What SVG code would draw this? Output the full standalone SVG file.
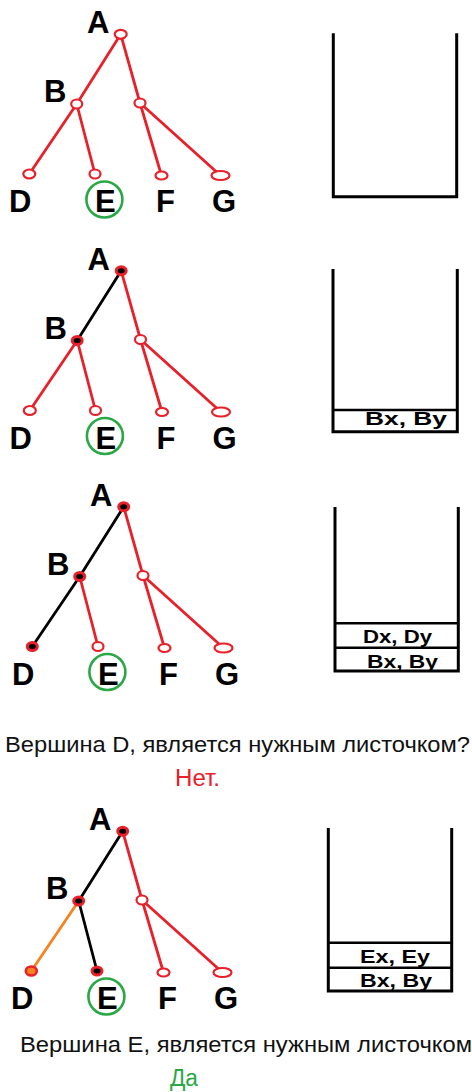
<svg xmlns="http://www.w3.org/2000/svg" width="472" height="1092" viewBox="0 0 472 1092">
  <defs>
    <style>
      .edge { stroke: #e8202a; stroke-width: 2.8; fill: none; stroke-linecap: round; }
      .edge.done { stroke: #000; }
      .edge.back { stroke: #f7821e; }
      .node { fill: #fff; stroke: #e8202a; stroke-width: 2.2; }
      .node.done { fill: #000; stroke-width: 3; }
      .node.back { fill: #f7821e; stroke-width: 2.6; }
      .lbl { font-family: "Liberation Sans", Arial, sans-serif; font-weight: bold; font-size: 31px; fill: #000; }
      .goal { fill: none; stroke: #2aa845; stroke-width: 2.6; }
      .stack { fill: none; stroke: #000; stroke-width: 3; }
      .cell { stroke: #000; stroke-width: 2.5; }
      .item { font-family: "Liberation Sans", Arial, sans-serif; font-weight: bold; font-size: 18.5px; fill: #000; }
      .q { font-family: "Liberation Sans", Arial, sans-serif; font-size: 22px; fill: #111; }
      .no { font-family: "Liberation Sans", Arial, sans-serif; font-size: 23px; fill: #e8202a; }
      .yes { font-family: "Liberation Sans", Arial, sans-serif; font-size: 23px; fill: #2aa845; }
    </style>
  </defs>

  <!-- Step 1: nothing visited yet -->
  <g id="step1">
    <g id="s1-edges">
      <line class="edge" x1="120.7" y1="34.3" x2="76.7" y2="104"/>
      <line class="edge" x1="120.7" y1="34.3" x2="140" y2="103"/>
      <line class="edge" x1="76.7" y1="104" x2="29.3" y2="174"/>
      <line class="edge" x1="76.7" y1="104" x2="95" y2="174"/>
      <line class="edge" x1="140" y1="103" x2="161.5" y2="175.5"/>
      <line class="edge" x1="140" y1="103" x2="220.5" y2="175.5"/>
    </g>
    <g id="s1-A"><ellipse class="node" cx="120.7" cy="34.3" rx="6" ry="4.5"/><text class="lbl" x="87" y="33">A</text></g>
    <g id="s1-B"><ellipse class="node" cx="76.7" cy="104" rx="5.5" ry="4.5"/><text class="lbl" x="44" y="102">B</text></g>
    <g id="s1-C"><ellipse class="node" cx="140" cy="103" rx="5.5" ry="4.5"/></g>
    <g id="s1-D"><ellipse class="node" cx="29.3" cy="174" rx="6" ry="4.5"/><text class="lbl" x="9" y="212">D</text></g>
    <g id="s1-E"><ellipse class="node" cx="95" cy="174" rx="5.5" ry="4.5"/><text class="lbl" x="95" y="212">E</text><circle class="goal" cx="104.4" cy="199.5" r="18"/></g>
    <g id="s1-F"><ellipse class="node" cx="161.5" cy="175.5" rx="6" ry="4"/><text class="lbl" x="156" y="212">F</text></g>
    <g id="s1-G"><ellipse class="node" cx="220.5" cy="175.5" rx="9" ry="4.5"/><text class="lbl" x="212" y="212">G</text></g>
    <g id="s1-stack"><polyline class="stack" points="333.3,33.3 333.3,196.7 456.7,196.7 456.7,33.3"/></g>
  </g>

  <!-- Step 2: A -> B pushed -->
  <g id="step2">
    <g transform="translate(0.5 236.5)">
      <g id="s2-edges">
        <line class="edge done" x1="120.7" y1="34.3" x2="76.7" y2="104"/>
        <line class="edge" x1="120.7" y1="34.3" x2="140" y2="103"/>
        <line class="edge" x1="76.7" y1="104" x2="29.3" y2="174"/>
        <line class="edge" x1="76.7" y1="104" x2="95" y2="174"/>
        <line class="edge" x1="140" y1="103" x2="161.5" y2="175.5"/>
        <line class="edge" x1="140" y1="103" x2="220.5" y2="175.5"/>
      </g>
      <g id="s2-A"><ellipse class="node done" cx="120.7" cy="34.3" rx="5" ry="4"/><text class="lbl" x="87" y="33">A</text></g>
      <g id="s2-B"><ellipse class="node done" cx="76.7" cy="104" rx="5" ry="4"/><text class="lbl" x="44" y="102">B</text></g>
      <g id="s2-C"><ellipse class="node" cx="140" cy="103" rx="5.5" ry="4.5"/></g>
      <g id="s2-D"><ellipse class="node" cx="29.3" cy="174" rx="6" ry="4.5"/><text class="lbl" x="9" y="212">D</text></g>
      <g id="s2-E"><ellipse class="node" cx="95" cy="174" rx="5.5" ry="4.5"/><text class="lbl" x="95" y="212">E</text><circle class="goal" cx="104.4" cy="199.5" r="18"/></g>
      <g id="s2-F"><ellipse class="node" cx="161.5" cy="175.5" rx="6" ry="4"/><text class="lbl" x="156" y="212">F</text></g>
      <g id="s2-G"><ellipse class="node" cx="220.5" cy="175.5" rx="9" ry="4.5"/><text class="lbl" x="212" y="212">G</text></g>
    </g>
    <g id="s2-stack">
      <polyline class="stack" points="333,269 333,431.7 457.3,431.7 457.3,269"/>
      <line class="cell" x1="333" y1="410" x2="457.3" y2="410"/>
      <text class="item" x="365" y="424.5" textLength="82" lengthAdjust="spacingAndGlyphs">Bx, By</text>
    </g>
  </g>

  <!-- Step 3: B -> D pushed -->
  <g id="step3">
    <g transform="translate(3 472.5)">
      <g id="s3-edges">
        <line class="edge done" x1="120.7" y1="34.3" x2="76.7" y2="104"/>
        <line class="edge" x1="120.7" y1="34.3" x2="140" y2="103"/>
        <line class="edge done" x1="76.7" y1="104" x2="29.3" y2="174"/>
        <line class="edge" x1="76.7" y1="104" x2="95" y2="174"/>
        <line class="edge" x1="140" y1="103" x2="161.5" y2="175.5"/>
        <line class="edge" x1="140" y1="103" x2="220.5" y2="175.5"/>
      </g>
      <g id="s3-A"><ellipse class="node done" cx="120.7" cy="34.3" rx="5" ry="4"/><text class="lbl" x="87" y="33">A</text></g>
      <g id="s3-B"><ellipse class="node done" cx="76.7" cy="104" rx="5" ry="4"/><text class="lbl" x="44" y="102">B</text></g>
      <g id="s3-C"><ellipse class="node" cx="140" cy="103" rx="5.5" ry="4.5"/></g>
      <g id="s3-D"><ellipse class="node done" cx="29.3" cy="174" rx="5" ry="4"/><text class="lbl" x="9" y="212">D</text></g>
      <g id="s3-E"><ellipse class="node" cx="95" cy="174" rx="5.5" ry="4.5"/><text class="lbl" x="95" y="212">E</text><circle class="goal" cx="104.4" cy="199.5" r="18"/></g>
      <g id="s3-F"><ellipse class="node" cx="161.5" cy="175.5" rx="6" ry="4"/><text class="lbl" x="156" y="212">F</text></g>
      <g id="s3-G"><ellipse class="node" cx="220.5" cy="175.5" rx="9" ry="4.5"/><text class="lbl" x="212" y="212">G</text></g>
    </g>
    <g id="s3-stack">
      <polyline class="stack" points="335,507 335,671 458.3,671 458.3,507"/>
      <line class="cell" x1="335" y1="623.3" x2="458.3" y2="623.3"/>
      <line class="cell" x1="335" y1="647.7" x2="458.3" y2="647.7"/>
      <text class="item" x="363" y="642.5" textLength="69" lengthAdjust="spacingAndGlyphs">Dx, Dy</text>
      <text class="item" x="367" y="667.5" textLength="71" lengthAdjust="spacingAndGlyphs">Bx, By</text>
    </g>
  </g>

  <g id="ask-D">
    <text class="q" x="5" y="752" textLength="465" lengthAdjust="spacingAndGlyphs">Вершина D, является нужным листочком?</text>
    <text class="no" x="175" y="786" textLength="45" lengthAdjust="spacingAndGlyphs">Нет.</text>
  </g>

  <!-- Step 4: D popped, B -> E pushed -->
  <g id="step4">
    <g transform="translate(2 797)">
      <g id="s4-edges">
        <line class="edge done" x1="120.7" y1="34.3" x2="76.7" y2="104"/>
        <line class="edge" x1="120.7" y1="34.3" x2="140" y2="103"/>
        <line class="edge back" x1="76.7" y1="104" x2="29.3" y2="174"/>
        <line class="edge done" x1="76.7" y1="104" x2="95" y2="174"/>
        <line class="edge" x1="140" y1="103" x2="161.5" y2="175.5"/>
        <line class="edge" x1="140" y1="103" x2="220.5" y2="175.5"/>
      </g>
      <g id="s4-A"><ellipse class="node done" cx="120.7" cy="34.3" rx="5" ry="4"/><text class="lbl" x="87" y="33">A</text></g>
      <g id="s4-B"><ellipse class="node done" cx="76.7" cy="104" rx="5" ry="4"/><text class="lbl" x="44" y="102">B</text></g>
      <g id="s4-C"><ellipse class="node" cx="140" cy="103" rx="5.5" ry="4.5"/></g>
      <g id="s4-D"><ellipse class="node back" cx="29.3" cy="174" rx="5.5" ry="4.5"/><text class="lbl" x="9" y="212">D</text></g>
      <g id="s4-E"><ellipse class="node done" cx="95" cy="174" rx="5" ry="4"/><text class="lbl" x="95" y="212">E</text><circle class="goal" cx="104.4" cy="199.5" r="18"/></g>
      <g id="s4-F"><ellipse class="node" cx="161.5" cy="175.5" rx="6" ry="4"/><text class="lbl" x="156" y="212">F</text></g>
      <g id="s4-G"><ellipse class="node" cx="220.5" cy="175.5" rx="9" ry="4.5"/><text class="lbl" x="212" y="212">G</text></g>
    </g>
    <g id="s4-stack">
      <polyline class="stack" points="328.3,828 328.3,991 451.7,991 451.7,828"/>
      <line class="cell" x1="328.3" y1="942.7" x2="451.7" y2="942.7"/>
      <line class="cell" x1="328.3" y1="967.7" x2="451.7" y2="967.7"/>
      <text class="item" x="360" y="962.5" textLength="70" lengthAdjust="spacingAndGlyphs">Ex, Ey</text>
      <text class="item" x="360" y="987" textLength="72" lengthAdjust="spacingAndGlyphs">Bx, By</text>
    </g>
  </g>

  <g id="ask-E">
    <text class="q" x="20" y="1052" textLength="452" lengthAdjust="spacingAndGlyphs">Вершина E, является нужным листочком</text>
    <text class="yes" x="170" y="1086" textLength="28" lengthAdjust="spacingAndGlyphs">Да</text>
  </g>
</svg>
